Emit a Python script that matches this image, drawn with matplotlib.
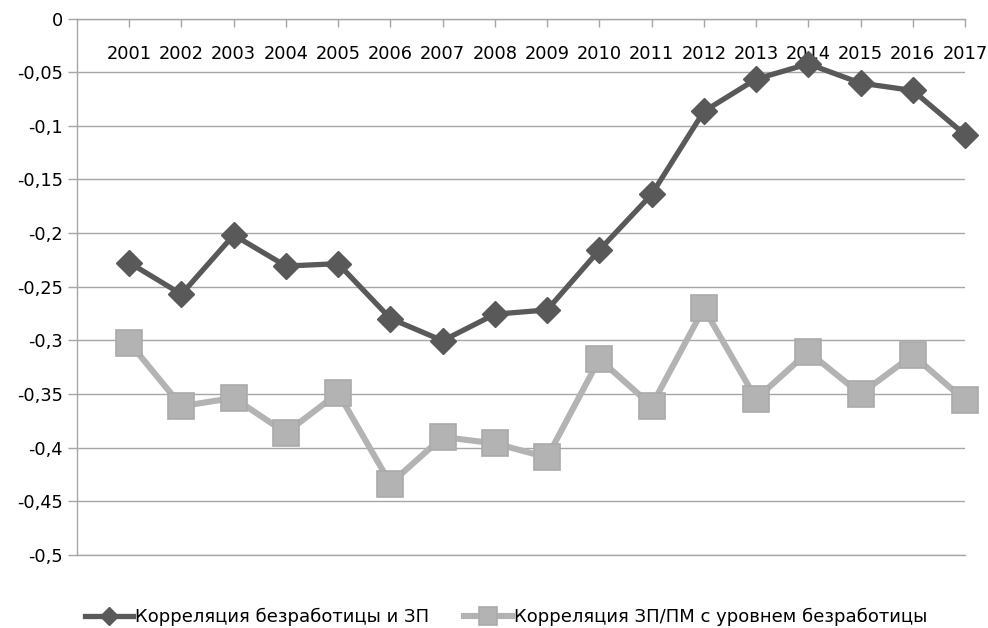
import matplotlib.pyplot as plt
import numpy as np

years = list(range(2001, 2018))
# Корреляция безработицы и ЗП
corr_unemp_wage = [-0.2275, -0.257, -0.2018, -0.2307, -0.2285, -0.2796, -0.3003, -0.2756, -0.2716,
                   -0.2158, -0.164, -0.0866, -0.0565, -0.0423, -0.0602, -0.0671, -0.1083]
# Корреляция ЗП/ПМ с уровнем безработицы
corr_wage_pm = [-0.302, -0.3613, -0.3536, -0.3862, -0.349, -0.4335, -0.390, -0.396, -0.409,
                -0.3174, -0.3608, -0.270, -0.3545, -0.3106, -0.350, -0.3137, -0.356]
label_dark = 'Корреляция безработицы и ЗП'
label_light = 'Корреляция ЗП/ПМ с уровнем безработицы'
y_ticks = [0, -0.05, -0.1, -0.15, -0.2, -0.25, -0.3, -0.35, -0.4, -0.45, -0.5]
y_tick_labels = ['0', '-0,05', '-0,1', '-0,15', '-0,2', '-0,25', '-0,3', '-0,35', '-0,4', '-0,45', '-0,5']

plt.rcParams['font.family'] = ['DejaVu Sans']
grid_col = '#a6a6a6'

fig = plt.figure(figsize=(9.88, 6.28), dpi=100)
ax = fig.add_axes([77 / 988, 1 - 555 / 628, (965 - 77) / 988, (555 - 18.5) / 628])

ax.plot(years, corr_unemp_wage, color='#595959', lw=3.8, marker='D', ms=13.5,
        mfc='#595959', mec='#595959', label=label_dark, zorder=4, solid_joinstyle='round',
        clip_on=False)
ax.plot(years, corr_wage_pm, color='#b3b3b3', lw=4.4, marker='s', ms=18.5,
        mfc='#b3b3b3', mec='#aaaaaa', mew=1.2, label=label_light, zorder=3, solid_joinstyle='round',
        clip_on=False)

ax.set_xlim(2000, 2017)
ax.set_ylim(-0.5, 0)
ax.set_yticks(y_ticks)
ax.set_yticklabels(y_tick_labels)
ax.set_xticks(years)
ax.set_xticklabels([str(y) for y in years])

ax.xaxis.tick_top()
ax.tick_params(axis='x', direction='in', length=6, width=1, color=grid_col,
               pad=-32, labelsize=12.8, labelcolor='#000000')
ax.tick_params(axis='y', direction='out', length=6.5, width=1, color=grid_col,
               pad=3.6, labelsize=12.8, labelcolor='#000000')

ax.yaxis.grid(True, color=grid_col, lw=1, zorder=0)
ax.set_axisbelow(True)
ax.spines['right'].set_visible(False)
for s in ['left', 'top', 'bottom']:
    ax.spines[s].set_color(grid_col)
    ax.spines[s].set_linewidth(1)

leg = fig.legend(loc='center', bbox_to_anchor=(506 / 988, 1 - 617 / 628), ncol=2, frameon=False,
                 fontsize=13, handlelength=2.7, handletextpad=0.1, columnspacing=1.9,
                 markerscale=0.7)

fig.savefig('out.png', dpi=100)
